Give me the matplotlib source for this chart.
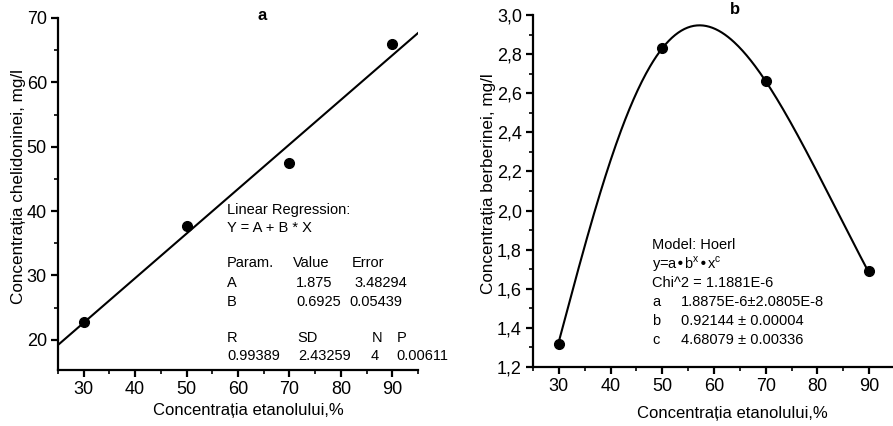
import matplotlib
matplotlib.use("Agg")
import matplotlib.pyplot as plt
import numpy as np
from matplotlib.ticker import MultipleLocator, FuncFormatter

plt.rcParams["font.family"] = ["Liberation Sans", "DejaVu Sans"]

# panel a: chelidonine
ethanol = [30, 50, 70, 90]
chelidonine = [22.8, 37.7, 47.5, 65.9]
lin_A = 1.875
lin_B = 0.6925

# panel b: berberine
berberine = [1.32, 2.83, 2.66, 1.69]
hoerl_a = 1.8875e-6
hoerl_b = 0.92144
hoerl_c = 4.68079

W, H = 893, 426
fig = plt.figure(figsize=(W / 100, H / 100), dpi=100)


def px(x, y):
    return x / W, 1 - y / H


def style(ax, xlab_x):
    for s in ["top", "right"]:
        ax.spines[s].set_visible(False)
    for s in ["left", "bottom"]:
        ax.spines[s].set_linewidth(1.6)
    ax.tick_params(which="major", direction="out", length=5, width=1.6,
                   labelsize=13, pad=3)
    ax.tick_params(which="minor", direction="out", length=3, width=1.2)
    ax.xaxis.set_major_locator(MultipleLocator(10))
    ax.xaxis.set_minor_locator(MultipleLocator(5))
    ax.set_xlim(25, 95)
    ax.set_xlabel("Concentrația etanolului,%", fontsize=12)
    ax.xaxis.set_label_coords(xlab_x, -0.095)


# ---- panel a
ax1 = fig.add_axes([58 / W, 1 - 370 / H, (418 - 58) / W, (370 - 18) / H])
style(ax1, 0.53)
xs = np.array([25, 95])
ax1.plot(xs, lin_A + lin_B * xs, color="black", lw=1.5)
ax1.plot(ethanol, chelidonine, "o", color="black", ms=7)
ax1.set_ylim(15.3, 70)
ax1.yaxis.set_major_locator(MultipleLocator(10))
ax1.yaxis.set_minor_locator(MultipleLocator(5))
ax1.set_ylabel("Concentrația chelidoninei, mg/l", fontsize=12.3)
ax1.yaxis.set_label_coords(-0.088, 0.52)
fig.text(*px(262, 15), "a", fontsize=12, fontweight="bold",
         ha="center", va="center")

fs = 10.5
rows = [
    (210, [(227, "Linear Regression:")]),
    (228, [(227, "Y = A + B * X")]),
    (263, [(227, "Param."), (293, "Value"), (352, "Error")]),
    (283, [(227, "A"), (296, "1.875"), (354, "3.48294")]),
    (302, [(227, "B"), (296, "0.6925"), (349, "0.05439")]),
    (338, [(227, "R"), (297, "SD"), (372, "N"), (397, "P")]),
    (356, [(227, "0.99389"), (298, "2.43259"), (371, "4"), (396, "0.00611")]),
]
for y, items in rows:
    for x, s in items:
        fig.text(*px(x, y), s, fontsize=fs, ha="left", va="center")

# ---- panel b
ax2 = fig.add_axes([533 / W, 1 - 367 / H, (895 - 533) / W, (367 - 15) / H])
style(ax2, 0.552)
ax2.xaxis.set_label_coords(0.552, -0.11)
xc = np.linspace(ethanol[0], ethanol[-1], 300)
ax2.plot(xc, hoerl_a * hoerl_b ** xc * xc ** hoerl_c, color="black", lw=1.5)
ax2.plot(ethanol, berberine, "o", color="black", ms=7)
ax2.set_ylim(1.2, 3.0)
ax2.yaxis.set_major_locator(MultipleLocator(0.2))
ax2.yaxis.set_minor_locator(MultipleLocator(0.1))
ax2.yaxis.set_major_formatter(FuncFormatter(lambda v, p: f"{v:.1f}".replace(".", ",")))
ax2.set_ylabel("Concentrația berberinei, mg/l", fontsize=12.3)
ax2.yaxis.set_label_coords(-0.103, 0.52)
fig.text(*px(735, 10), "b", fontsize=12, fontweight="bold",
         ha="center", va="center")

rows2 = [
    (245, [(652, "Model: Hoerl")]),
    (264, [(652, r"y=a•b$^{\mathregular{x}}$•x$^{\mathregular{c}}$")]),
    (283, [(652, "Chi^2 = 1.1881E-6")]),
    (302, [(652, "a"), (681, "1.8875E-6±2.0805E-8")]),
    (321, [(652, "b"), (681, "0.92144 ± 0.00004")]),
    (340, [(652, "c"), (681, "4.68079 ± 0.00336")]),
]
for y, items in rows2:
    for x, s in items:
        fig.text(*px(x, y), s, fontsize=fs, ha="left", va="center")

fig.savefig("out.png", dpi=100)
